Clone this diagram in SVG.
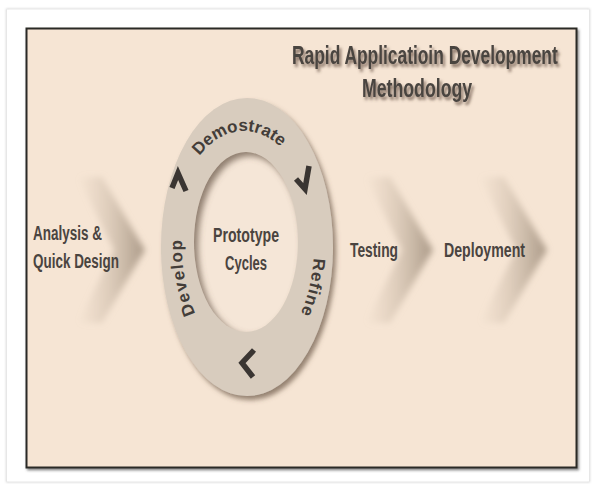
<svg xmlns="http://www.w3.org/2000/svg" width="592" height="484" viewBox="0 0 592 484">
<defs>
<style>
.lbl{font-family:"Liberation Sans Narrow","Liberation Sans",Arial,sans-serif;font-weight:bold;fill:#4a4440;}
.ring{font-family:"Liberation Sans","DejaVu Sans",Arial,sans-serif;font-weight:bold;fill:#433d39;font-size:17px;}
.mark{fill:none;stroke:#3a3532;stroke-width:5.5;stroke-linecap:butt;stroke-linejoin:miter;}
</style>
<linearGradient id="chev" x1="0" y1="0" x2="1" y2="0">
<stop offset="0" stop-color="#c8b7a5" stop-opacity="0"/>
<stop offset="0.45" stop-color="#c2b19f" stop-opacity="0.45"/>
<stop offset="1" stop-color="#a59482" stop-opacity="0.95"/>
</linearGradient>
<filter id="blur" x="-20%" y="-20%" width="140%" height="140%"><feGaussianBlur stdDeviation="3"/></filter>
<filter id="soft" x="-20%" y="-20%" width="140%" height="140%"><feGaussianBlur stdDeviation="3"/></filter>
<filter id="tshadow" x="-10%" y="-30%" width="120%" height="160%"><feDropShadow dx="2" dy="3" stdDeviation="1.6" flood-color="#5e4c3e" flood-opacity="0.75"/></filter>
<filter id="ringshadow" x="-20%" y="-20%" width="140%" height="140%"><feDropShadow dx="3" dy="4" stdDeviation="2.5" flood-color="#6a5645" flood-opacity="0.7"/></filter>
<filter id="boxshadow" x="-5%" y="-5%" width="110%" height="110%"><feDropShadow dx="1.5" dy="2" stdDeviation="1.2" flood-color="#444" flood-opacity="0.6"/></filter>
<filter id="frameblur" x="-5%" y="-5%" width="110%" height="110%"><feGaussianBlur stdDeviation="1"/></filter>
<clipPath id="hole"><ellipse cx="246" cy="242" rx="52" ry="90"/></clipPath>
<polygon id="chevshape" points="0,0 24,0 67,73 24,146 0,146 36,73"/>
</defs>

<rect x="0" y="0" width="592" height="484" fill="#ffffff"/>
<rect x="7" y="9.5" width="582" height="472" fill="#ffffff" stroke="#c8c8c8" stroke-width="1.5" filter="url(#frameblur)"/>
<rect x="7" y="9.5" width="582" height="472" fill="#ffffff"/>
<rect x="26.5" y="28.5" width="550" height="439" fill="#f6e5d4" stroke="#2b2926" stroke-width="2" filter="url(#boxshadow)"/>

<g id="title" filter="url(#tshadow)">
<text class="lbl" transform="translate(292,64) scale(0.72,1)" x="0" y="0" font-size="25" textLength="369" lengthAdjust="spacingAndGlyphs">Rapid Applicatioin Development</text>
<text class="lbl" transform="translate(362,97) scale(0.72,1)" x="0" y="0" font-size="25" textLength="153" lengthAdjust="spacingAndGlyphs">Methodology</text>
</g>

<g id="node-analysis">
<use href="#chevshape" x="78" y="177" fill="url(#chev)" filter="url(#soft)"/>
<text class="lbl" x="33" y="240" font-size="20" textLength="69" lengthAdjust="spacingAndGlyphs">Analysis &amp;</text>
<text class="lbl" x="33" y="268" font-size="20" textLength="86" lengthAdjust="spacingAndGlyphs">Quick Design</text>
</g>

<g id="node-prototype-cycles">
<ellipse cx="247" cy="247" rx="86" ry="149" fill="#d8ccbe" filter="url(#ringshadow)"/>
<ellipse cx="246" cy="242" rx="52" ry="90" fill="#f5e6d7"/>
<g clip-path="url(#hole)">
<path d="M150,120 H350 V370 H150 Z M250,246 m-52,0 a52,90 0 1,0 104,0 a52,90 0 1,0 -104,0 Z" fill="#6e5c4c" fill-opacity="0.75" fill-rule="evenodd" filter="url(#blur)"/>
</g>
<path id="pDemo" d="M172,247 A72,116 0 0 1 316,247" fill="none"/>
<path id="pRefine" d="M310,207.7 A66,112 0 0 1 268.4,352.5" fill="none"/>
<path id="pDevelop" d="M220.1,347.5 A66,112 0 0 1 188.7,196.9" fill="none"/>
<text class="ring"><textPath href="#pDemo" startOffset="48%" text-anchor="middle">Demostrate</textPath></text>
<text class="ring" letter-spacing="1"><textPath href="#pRefine" startOffset="50%" text-anchor="middle">Refine</textPath></text>
<text class="ring" letter-spacing="1.5"><textPath href="#pDevelop" startOffset="50%" text-anchor="middle">Develop</textPath></text>
<text class="lbl" x="213" y="242" font-size="20" textLength="66" lengthAdjust="spacingAndGlyphs">Prototype</text>
<text class="lbl" x="225" y="270" font-size="20" textLength="42" lengthAdjust="spacingAndGlyphs">Cycles</text>
</g>

<g id="node-testing">
<use href="#chevshape" x="366" y="177" fill="url(#chev)" filter="url(#soft)"/>
<text class="lbl" x="350" y="257" font-size="20" textLength="48" lengthAdjust="spacingAndGlyphs">Testing</text>
</g>

<g id="node-deployment">
<use href="#chevshape" x="480" y="177" fill="url(#chev)" filter="url(#soft)"/>
<text class="lbl" x="444" y="257" font-size="20" textLength="81" lengthAdjust="spacingAndGlyphs">Deployment</text>
</g>

<g id="connectors">
<polyline class="mark" points="172,188 178,173 186,191"/>
<polyline class="mark" points="296,179 305,189 309,166"/>
<polyline class="mark" points="254,350 242,363 253,377"/>
</g>
</svg>
